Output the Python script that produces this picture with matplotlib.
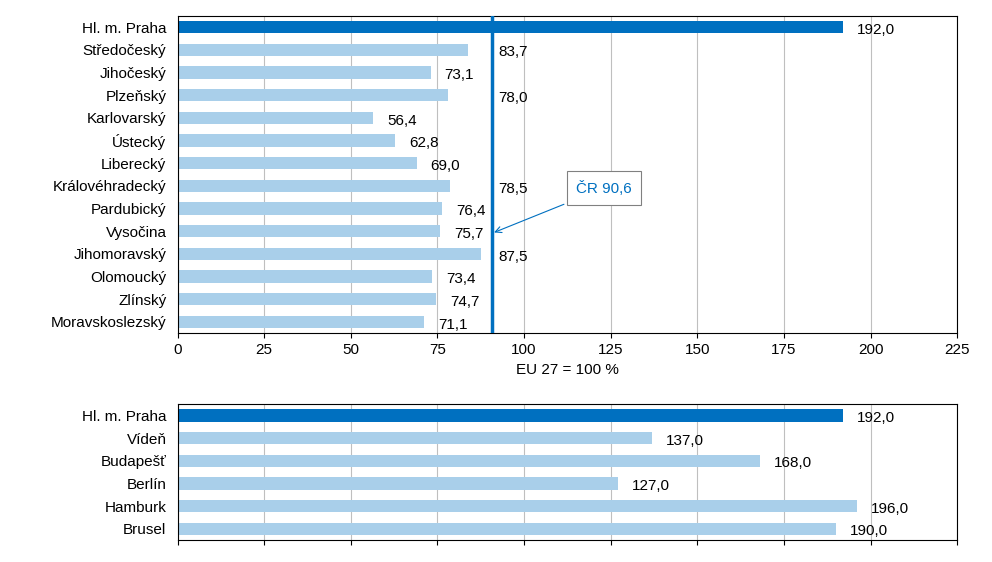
import matplotlib.pyplot as plt

regions = ['Hl. m. Praha', 'Středočeský', 'Jihočeský', 'Plzeňský', 'Karlovarský', 'Ústecký',
           'Liberecký', 'Královéhradecký', 'Pardubický', 'Vysočina', 'Jihomoravský',
           'Olomoucký', 'Zlínský', 'Moravskoslezský']
region_vals = [192.0, 83.7, 73.1, 78.0, 56.4, 62.8, 69.0, 78.5, 76.4, 75.7, 87.5, 73.4, 74.7, 71.1]
cities = ['Hl. m. Praha', 'Vídeň', 'Budapešť', 'Berlín', 'Hamburk', 'Brusel']
city_vals = [192.0, 137.0, 168.0, 127.0, 196.0, 190.0]
cr = 90.6

dark = '#0070C0'
light = '#A9CFEA'
plt.rcParams['font.family'] = ['Arial', 'Liberation Sans', 'DejaVu Sans']
plt.rcParams['font.size'] = 11

fig = plt.figure(figsize=(9.92, 5.62), dpi=100)
ax1 = fig.add_axes([0.179, 0.407, 0.786, 0.565])
ax2 = fig.add_axes([0.179, 0.039, 0.786, 0.242])


def draw(ax, names, vals, line=None):
    cols = [dark] + [light] * (len(vals) - 1)
    ys = range(len(vals))
    ax.barh(ys, vals, height=0.55, color=cols, zorder=2)
    for y, v in zip(ys, vals):
        x = v + 4
        if line is not None and v < line and x > line - 9:
            x = line + 2
        ax.text(x, y + 0.12, f'{v:.1f}'.replace('.', ','), va='center', ha='left')
    ax.set_yticks(list(ys))
    ax.set_yticklabels(names)
    ax.set_ylim(len(vals) - 0.5, -0.5)
    ax.set_xlim(0, 225)
    ax.set_xticks(range(0, 226, 25))
    ax.grid(axis='x', color='#BFBFBF', linewidth=0.8, zorder=0)
    ax.tick_params(axis='y', length=0, pad=8)
    for s in ax.spines.values():
        s.set_color('black')
        s.set_linewidth(0.8)


draw(ax1, regions, region_vals, line=cr)
ax1.set_xlabel('EU 27 = 100 %')
ax1.axvline(cr, color=dark, linewidth=2.5, zorder=3)
ax1.annotate('ČR 90,6', xy=(cr, 9.1), xytext=(115, 7.3), color=dark,
             bbox=dict(boxstyle='square,pad=0.6', fc='white', ec='#808080', lw=0.8),
             arrowprops=dict(arrowstyle='->', color=dark, lw=0.8))

draw(ax2, cities, city_vals)
ax2.set_xticklabels([])

fig.savefig('out.png')
